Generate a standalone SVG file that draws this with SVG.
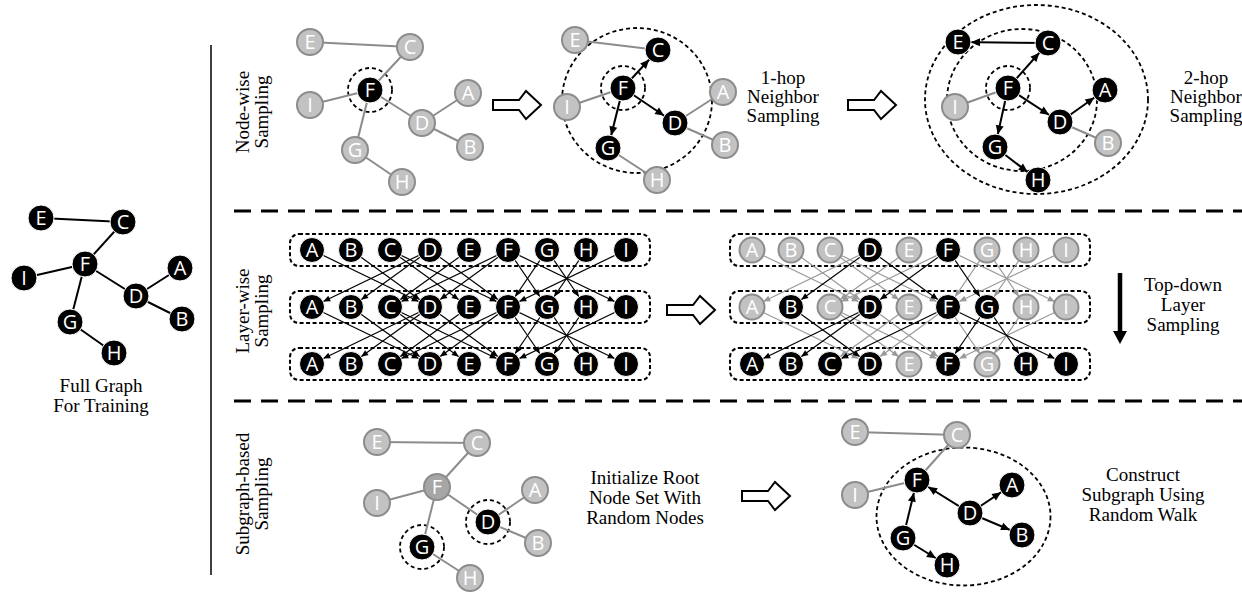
<svg xmlns="http://www.w3.org/2000/svg" width="1242" height="593" viewBox="0 0 1242 593">
<style>
.eg{stroke:#8c8c8c;stroke-width:2}
.eb{stroke:#000;stroke-width:2}
.ab{stroke:#000;stroke-width:2;marker-end:url(#ah13)}
.lb{stroke:#000;stroke-width:1.2;marker-end:url(#lh)}
.lg{stroke:#999;stroke-width:1.2;marker-end:url(#lhg)}
.nb circle{fill:#000;stroke:#fff;stroke-width:1}
.ng circle{fill:#c2c2c2;stroke:#8c8c8c;stroke-width:2}
.nd circle{fill:#a6a6a6;stroke:#8c8c8c;stroke-width:2}
.nb text,.ng text,.nd text{font-family:"Open Sans",sans-serif;font-size:20px;fill:#fff;text-anchor:middle}
.dc{fill:none;stroke:#000;stroke-width:1.8;stroke-dasharray:4 3}
.row{fill:none;stroke:#000;stroke-width:2;stroke-dasharray:4 2.5}
.lbl{font-family:"Liberation Serif",serif;font-size:19px;fill:#000;text-anchor:middle}
.arr{fill:#fff;stroke:#000;stroke-width:2}
.sep{stroke:#000;stroke-width:3;stroke-dasharray:17 10}
</style>
<defs>
<marker id="ah13" markerUnits="userSpaceOnUse" markerWidth="40" markerHeight="10" refX="22" refY="4" orient="auto" overflow="visible"><path d="M0,0 L9,4 L0,8 Z" fill="#000"/></marker>
<marker id="lh" markerUnits="userSpaceOnUse" markerWidth="40" markerHeight="10" refX="19.5" refY="3" orient="auto" overflow="visible"><path d="M0,0 L7,3 L0,6 Z" fill="#000"/></marker>
<marker id="lhg" markerUnits="userSpaceOnUse" markerWidth="40" markerHeight="10" refX="19.5" refY="3" orient="auto" overflow="visible"><path d="M0,0 L7,3 L0,6 Z" fill="#999"/></marker>
<path id="harrow" d="M0,-5 H26 L33,-14 L48,0 L33,14 L26,5 H0 Z"/>
</defs>
<rect width="1242" height="593" fill="#fff"/>

<g id="frame">
<line x1="211" y1="45" x2="211" y2="575" stroke="#000" stroke-width="1.5"/>
<line class="sep" x1="234" y1="211" x2="1242" y2="211"/>
<line class="sep" x1="234" y1="401" x2="1242" y2="401"/>
</g>

<g id="labels">
<text class="lbl" x="101" y="392">Full Graph</text>
<text class="lbl" x="101" y="412">For Training</text>
<text class="lbl" transform="translate(249,112) rotate(-90)">Node-wise</text>
<text class="lbl" transform="translate(268,112) rotate(-90)">Sampling</text>
<text class="lbl" transform="translate(249,311) rotate(-90)">Layer-wise</text>
<text class="lbl" transform="translate(268,311) rotate(-90)">Sampling</text>
<text class="lbl" transform="translate(249,494) rotate(-90)">Subgraph-based</text>
<text class="lbl" transform="translate(268,494) rotate(-90)">Sampling</text>
<text class="lbl" x="783" y="84">1-hop</text>
<text class="lbl" x="783" y="103">Neighbor</text>
<text class="lbl" x="783" y="122">Sampling</text>
<text class="lbl" x="1206" y="84">2-hop</text>
<text class="lbl" x="1206" y="103">Neighbor</text>
<text class="lbl" x="1206" y="122">Sampling</text>
<text class="lbl" x="1183" y="291">Top-down</text>
<text class="lbl" x="1183" y="311">Layer</text>
<text class="lbl" x="1183" y="331">Sampling</text>
<text class="lbl" x="645" y="484">Initialize Root</text>
<text class="lbl" x="645" y="504">Node Set With</text>
<text class="lbl" x="645" y="524">Random Nodes</text>
<text class="lbl" x="1143" y="481">Construct</text>
<text class="lbl" x="1143" y="501">Subgraph Using</text>
<text class="lbl" x="1143" y="521">Random Walk</text>
</g>

<g id="transitions">
<use href="#harrow" class="arr" x="493" y="105"/>
<use href="#harrow" class="arr" x="848" y="105"/>
<use href="#harrow" class="arr" x="667" y="310"/>
<use href="#harrow" class="arr" x="742" y="496"/>
<line x1="1120" y1="273" x2="1120" y2="333" stroke="#000" stroke-width="4.5"/>
<polygon points="1113,331 1127,331 1120,344" fill="#000"/>
</g>

<g id="regions">
<circle class="dc" cx="370" cy="90" r="22"/>
<circle class="dc" cx="623" cy="88" r="22"/>
<ellipse class="dc" cx="637" cy="100.5" rx="75" ry="72.5"/>
<circle class="dc" cx="1008" cy="88" r="22"/>
<ellipse class="dc" cx="1022" cy="100" rx="75" ry="71"/>
<ellipse class="dc" cx="1036.5" cy="99.5" rx="111.5" ry="94.5"/>
<rect class="row" x="290" y="234" width="360" height="32" rx="9"/>
<rect class="row" x="290" y="291" width="360" height="32" rx="9"/>
<rect class="row" x="290" y="348" width="360" height="32" rx="9"/>
<rect class="row" x="730" y="234" width="360" height="32" rx="9"/>
<rect class="row" x="730" y="291" width="360" height="32" rx="9"/>
<rect class="row" x="730" y="348" width="360" height="32" rx="9"/>
<circle class="dc" cx="488" cy="522" r="22"/>
<circle class="dc" cx="422" cy="547" r="22"/>
<ellipse class="dc" cx="963.5" cy="516.5" rx="87" ry="69"/>
</g>

<g id="connectors">
<!-- full graph -->
<line class="eb" x1="41" y1="218" x2="123" y2="222"/>
<line class="eb" x1="123" y1="222" x2="85" y2="264"/>
<line class="eb" x1="85" y1="264" x2="24" y2="278"/>
<line class="eb" x1="85" y1="264" x2="136" y2="296"/>
<line class="eb" x1="85" y1="264" x2="70" y2="322"/>
<line class="eb" x1="136" y1="296" x2="180" y2="268"/>
<line class="eb" x1="136" y1="296" x2="182" y2="319"/>
<line class="eb" x1="70" y1="322" x2="114" y2="353"/>
<!-- node-wise 1 -->
<line class="eg" x1="310" y1="42" x2="410" y2="47"/>
<line class="eg" x1="410" y1="47" x2="370" y2="90"/>
<line class="eg" x1="370" y1="90" x2="310" y2="105"/>
<line class="eg" x1="370" y1="90" x2="422" y2="123"/>
<line class="eg" x1="370" y1="90" x2="355" y2="150"/>
<line class="eg" x1="422" y1="123" x2="468" y2="93"/>
<line class="eg" x1="422" y1="123" x2="470" y2="147"/>
<line class="eg" x1="355" y1="150" x2="402" y2="182"/>
<!-- node-wise 2 -->
<line class="eg" x1="575" y1="40" x2="658" y2="50"/>
<line class="eg" x1="623" y1="88" x2="567" y2="107"/>
<line class="eg" x1="675" y1="123" x2="723" y2="92"/>
<line class="eg" x1="675" y1="123" x2="725" y2="145"/>
<line class="eg" x1="608" y1="148" x2="657" y2="180"/>
<line class="ab" x1="623" y1="88" x2="658" y2="50"/>
<line class="ab" x1="623" y1="88" x2="675" y2="123"/>
<line class="ab" x1="623" y1="88" x2="608" y2="148"/>
<!-- node-wise 3 -->
<line class="eg" x1="1008" y1="88" x2="955" y2="107"/>
<line class="eg" x1="1060" y1="122" x2="1108" y2="143"/>
<line class="ab" x1="1048" y1="43" x2="958" y2="42"/>
<line class="ab" x1="1008" y1="88" x2="1048" y2="43"/>
<line class="ab" x1="1008" y1="88" x2="1060" y2="122"/>
<line class="ab" x1="1008" y1="88" x2="995" y2="147"/>
<line class="ab" x1="1060" y1="122" x2="1105" y2="90"/>
<line class="ab" x1="995" y1="147" x2="1038" y2="180"/>
<!-- layer-wise left, rows 1 to 2 -->
<line class="lb" x1="312" y1="250" x2="430" y2="307"/>
<line class="lb" x1="351" y1="250" x2="430" y2="307"/>
<line class="lb" x1="390" y1="250" x2="469" y2="307"/>
<line class="lb" x1="390" y1="250" x2="508" y2="307"/>
<line class="lb" x1="430" y1="250" x2="312" y2="307"/>
<line class="lb" x1="430" y1="250" x2="351" y2="307"/>
<line class="lb" x1="430" y1="250" x2="508" y2="307"/>
<line class="lb" x1="469" y1="250" x2="390" y2="307"/>
<line class="lb" x1="508" y1="250" x2="390" y2="307"/>
<line class="lb" x1="508" y1="250" x2="430" y2="307"/>
<line class="lb" x1="508" y1="250" x2="547" y2="307"/>
<line class="lb" x1="508" y1="250" x2="626" y2="307"/>
<line class="lb" x1="547" y1="250" x2="508" y2="307"/>
<line class="lb" x1="547" y1="250" x2="586" y2="307"/>
<line class="lb" x1="586" y1="250" x2="547" y2="307"/>
<line class="lb" x1="626" y1="250" x2="508" y2="307"/>
<!-- layer-wise left, rows 2 to 3 -->
<line class="lb" x1="312" y1="307" x2="430" y2="364"/>
<line class="lb" x1="351" y1="307" x2="430" y2="364"/>
<line class="lb" x1="390" y1="307" x2="469" y2="364"/>
<line class="lb" x1="390" y1="307" x2="508" y2="364"/>
<line class="lb" x1="430" y1="307" x2="312" y2="364"/>
<line class="lb" x1="430" y1="307" x2="351" y2="364"/>
<line class="lb" x1="430" y1="307" x2="508" y2="364"/>
<line class="lb" x1="469" y1="307" x2="390" y2="364"/>
<line class="lb" x1="508" y1="307" x2="390" y2="364"/>
<line class="lb" x1="508" y1="307" x2="430" y2="364"/>
<line class="lb" x1="508" y1="307" x2="547" y2="364"/>
<line class="lb" x1="508" y1="307" x2="626" y2="364"/>
<line class="lb" x1="547" y1="307" x2="508" y2="364"/>
<line class="lb" x1="547" y1="307" x2="586" y2="364"/>
<line class="lb" x1="586" y1="307" x2="547" y2="364"/>
<line class="lb" x1="626" y1="307" x2="508" y2="364"/>
<!-- layer-wise right, rows 1 to 2 grey -->
<line class="lg" x1="752" y1="250" x2="870" y2="307"/>
<line class="lg" x1="791" y1="250" x2="870" y2="307"/>
<line class="lg" x1="830" y1="250" x2="909" y2="307"/>
<line class="lg" x1="830" y1="250" x2="948" y2="307"/>
<line class="lg" x1="870" y1="250" x2="752" y2="307"/>
<line class="lg" x1="909" y1="250" x2="830" y2="307"/>
<line class="lg" x1="948" y1="250" x2="830" y2="307"/>
<line class="lg" x1="948" y1="250" x2="1066" y2="307"/>
<line class="lg" x1="987" y1="250" x2="948" y2="307"/>
<line class="lg" x1="987" y1="250" x2="1026" y2="307"/>
<line class="lg" x1="1026" y1="250" x2="987" y2="307"/>
<line class="lg" x1="1066" y1="250" x2="948" y2="307"/>
<!-- layer-wise right, rows 2 to 3 grey -->
<line class="lg" x1="752" y1="307" x2="870" y2="364"/>
<line class="lg" x1="830" y1="307" x2="909" y2="364"/>
<line class="lg" x1="830" y1="307" x2="948" y2="364"/>
<line class="lg" x1="870" y1="307" x2="948" y2="364"/>
<line class="lg" x1="909" y1="307" x2="830" y2="364"/>
<line class="lg" x1="948" y1="307" x2="870" y2="364"/>
<line class="lg" x1="948" y1="307" x2="987" y2="364"/>
<line class="lg" x1="1026" y1="307" x2="987" y2="364"/>
<line class="lg" x1="1066" y1="307" x2="948" y2="364"/>
<!-- layer-wise right black -->
<line class="lb" x1="870" y1="250" x2="791" y2="307"/>
<line class="lb" x1="870" y1="250" x2="948" y2="307"/>
<line class="lb" x1="948" y1="250" x2="870" y2="307"/>
<line class="lb" x1="948" y1="250" x2="987" y2="307"/>
<line class="lb" x1="791" y1="307" x2="870" y2="364"/>
<line class="lb" x1="870" y1="307" x2="752" y2="364"/>
<line class="lb" x1="870" y1="307" x2="791" y2="364"/>
<line class="lb" x1="948" y1="307" x2="830" y2="364"/>
<line class="lb" x1="948" y1="307" x2="1066" y2="364"/>
<line class="lb" x1="987" y1="307" x2="948" y2="364"/>
<line class="lb" x1="987" y1="307" x2="1026" y2="364"/>
<!-- subgraph 1 -->
<line class="eg" x1="377" y1="442" x2="477" y2="443"/>
<line class="eg" x1="477" y1="443" x2="437" y2="487"/>
<line class="eg" x1="437" y1="487" x2="377" y2="503"/>
<line class="eg" x1="437" y1="487" x2="488" y2="522"/>
<line class="eg" x1="437" y1="487" x2="422" y2="547"/>
<line class="eg" x1="488" y1="522" x2="535" y2="490"/>
<line class="eg" x1="488" y1="522" x2="538" y2="543"/>
<line class="eg" x1="422" y1="547" x2="470" y2="578"/>
<!-- subgraph 2 -->
<line class="eg" x1="855" y1="432" x2="957" y2="435"/>
<line class="eg" x1="957" y1="435" x2="917" y2="480"/>
<line class="eg" x1="917" y1="480" x2="855" y2="495"/>
<line class="ab" x1="903" y1="538" x2="917" y2="480"/>
<line class="ab" x1="970" y1="513" x2="917" y2="480"/>
<line class="ab" x1="970" y1="513" x2="1012" y2="485"/>
<line class="ab" x1="970" y1="513" x2="1022" y2="535"/>
<line class="ab" x1="903" y1="538" x2="947" y2="565"/>
</g>

<g id="full-graph">
<g id="full-E" class="nb"><circle cx="41" cy="218" r="13"/><text x="41" y="225">E</text></g>
<g id="full-C" class="nb"><circle cx="123" cy="222" r="13"/><text x="123" y="229">C</text></g>
<g id="full-F" class="nb"><circle cx="85" cy="264" r="13"/><text x="85" y="271">F</text></g>
<g id="full-I" class="nb"><circle cx="24" cy="278" r="13"/><text x="24" y="285">I</text></g>
<g id="full-A" class="nb"><circle cx="180" cy="268" r="13"/><text x="180" y="275">A</text></g>
<g id="full-D" class="nb"><circle cx="136" cy="296" r="13"/><text x="136" y="303">D</text></g>
<g id="full-B" class="nb"><circle cx="182" cy="319" r="13"/><text x="182" y="326">B</text></g>
<g id="full-G" class="nb"><circle cx="70" cy="322" r="13"/><text x="70" y="329">G</text></g>
<g id="full-H" class="nb"><circle cx="114" cy="353" r="13"/><text x="114" y="360">H</text></g>
</g>

<g id="nodewise-1">
<g id="nw1-E" class="ng"><circle cx="310" cy="42" r="13"/><text x="310" y="49">E</text></g>
<g id="nw1-C" class="ng"><circle cx="410" cy="47" r="13"/><text x="410" y="54">C</text></g>
<g id="nw1-F" class="nb"><circle cx="370" cy="90" r="13"/><text x="370" y="97">F</text></g>
<g id="nw1-I" class="ng"><circle cx="310" cy="105" r="13"/><text x="310" y="112">I</text></g>
<g id="nw1-A" class="ng"><circle cx="468" cy="93" r="13"/><text x="468" y="100">A</text></g>
<g id="nw1-D" class="ng"><circle cx="422" cy="123" r="13"/><text x="422" y="130">D</text></g>
<g id="nw1-B" class="ng"><circle cx="470" cy="147" r="13"/><text x="470" y="154">B</text></g>
<g id="nw1-G" class="ng"><circle cx="355" cy="150" r="13"/><text x="355" y="157">G</text></g>
<g id="nw1-H" class="ng"><circle cx="402" cy="182" r="13"/><text x="402" y="189">H</text></g>
</g>

<g id="nodewise-2">
<g id="nw2-E" class="ng"><circle cx="575" cy="40" r="13"/><text x="575" y="47">E</text></g>
<g id="nw2-C" class="nb"><circle cx="658" cy="50" r="13"/><text x="658" y="57">C</text></g>
<g id="nw2-F" class="nb"><circle cx="623" cy="88" r="13"/><text x="623" y="95">F</text></g>
<g id="nw2-I" class="ng"><circle cx="567" cy="107" r="13"/><text x="567" y="114">I</text></g>
<g id="nw2-A" class="ng"><circle cx="723" cy="92" r="13"/><text x="723" y="99">A</text></g>
<g id="nw2-D" class="nb"><circle cx="675" cy="123" r="13"/><text x="675" y="130">D</text></g>
<g id="nw2-B" class="ng"><circle cx="725" cy="145" r="13"/><text x="725" y="152">B</text></g>
<g id="nw2-G" class="nb"><circle cx="608" cy="148" r="13"/><text x="608" y="155">G</text></g>
<g id="nw2-H" class="ng"><circle cx="657" cy="180" r="13"/><text x="657" y="187">H</text></g>
</g>

<g id="nodewise-3">
<g id="nw3-E" class="nb"><circle cx="958" cy="42" r="13"/><text x="958" y="49">E</text></g>
<g id="nw3-C" class="nb"><circle cx="1048" cy="43" r="13"/><text x="1048" y="50">C</text></g>
<g id="nw3-F" class="nb"><circle cx="1008" cy="88" r="13"/><text x="1008" y="95">F</text></g>
<g id="nw3-I" class="ng"><circle cx="955" cy="107" r="13"/><text x="955" y="114">I</text></g>
<g id="nw3-A" class="nb"><circle cx="1105" cy="90" r="13"/><text x="1105" y="97">A</text></g>
<g id="nw3-D" class="nb"><circle cx="1060" cy="122" r="13"/><text x="1060" y="129">D</text></g>
<g id="nw3-B" class="ng"><circle cx="1108" cy="143" r="13"/><text x="1108" y="150">B</text></g>
<g id="nw3-G" class="nb"><circle cx="995" cy="147" r="13"/><text x="995" y="154">G</text></g>
<g id="nw3-H" class="nb"><circle cx="1038" cy="180" r="13"/><text x="1038" y="187">H</text></g>
</g>

<g id="layer-left">
<g id="ll1-A" class="nb"><circle cx="312" cy="250" r="12.5"/><text x="312" y="257">A</text></g>
<g id="ll1-B" class="nb"><circle cx="351" cy="250" r="12.5"/><text x="351" y="257">B</text></g>
<g id="ll1-C" class="nb"><circle cx="390" cy="250" r="12.5"/><text x="390" y="257">C</text></g>
<g id="ll1-D" class="nb"><circle cx="430" cy="250" r="12.5"/><text x="430" y="257">D</text></g>
<g id="ll1-E" class="nb"><circle cx="469" cy="250" r="12.5"/><text x="469" y="257">E</text></g>
<g id="ll1-F" class="nb"><circle cx="508" cy="250" r="12.5"/><text x="508" y="257">F</text></g>
<g id="ll1-G" class="nb"><circle cx="547" cy="250" r="12.5"/><text x="547" y="257">G</text></g>
<g id="ll1-H" class="nb"><circle cx="586" cy="250" r="12.5"/><text x="586" y="257">H</text></g>
<g id="ll1-I" class="nb"><circle cx="626" cy="250" r="12.5"/><text x="626" y="257">I</text></g>
<g id="ll2-A" class="nb"><circle cx="312" cy="307" r="12.5"/><text x="312" y="314">A</text></g>
<g id="ll2-B" class="nb"><circle cx="351" cy="307" r="12.5"/><text x="351" y="314">B</text></g>
<g id="ll2-C" class="nb"><circle cx="390" cy="307" r="12.5"/><text x="390" y="314">C</text></g>
<g id="ll2-D" class="nb"><circle cx="430" cy="307" r="12.5"/><text x="430" y="314">D</text></g>
<g id="ll2-E" class="nb"><circle cx="469" cy="307" r="12.5"/><text x="469" y="314">E</text></g>
<g id="ll2-F" class="nb"><circle cx="508" cy="307" r="12.5"/><text x="508" y="314">F</text></g>
<g id="ll2-G" class="nb"><circle cx="547" cy="307" r="12.5"/><text x="547" y="314">G</text></g>
<g id="ll2-H" class="nb"><circle cx="586" cy="307" r="12.5"/><text x="586" y="314">H</text></g>
<g id="ll2-I" class="nb"><circle cx="626" cy="307" r="12.5"/><text x="626" y="314">I</text></g>
<g id="ll3-A" class="nb"><circle cx="312" cy="364" r="12.5"/><text x="312" y="371">A</text></g>
<g id="ll3-B" class="nb"><circle cx="351" cy="364" r="12.5"/><text x="351" y="371">B</text></g>
<g id="ll3-C" class="nb"><circle cx="390" cy="364" r="12.5"/><text x="390" y="371">C</text></g>
<g id="ll3-D" class="nb"><circle cx="430" cy="364" r="12.5"/><text x="430" y="371">D</text></g>
<g id="ll3-E" class="nb"><circle cx="469" cy="364" r="12.5"/><text x="469" y="371">E</text></g>
<g id="ll3-F" class="nb"><circle cx="508" cy="364" r="12.5"/><text x="508" y="371">F</text></g>
<g id="ll3-G" class="nb"><circle cx="547" cy="364" r="12.5"/><text x="547" y="371">G</text></g>
<g id="ll3-H" class="nb"><circle cx="586" cy="364" r="12.5"/><text x="586" y="371">H</text></g>
<g id="ll3-I" class="nb"><circle cx="626" cy="364" r="12.5"/><text x="626" y="371">I</text></g>
</g>

<g id="layer-right">
<g id="lr1-A" class="ng"><circle cx="752" cy="250" r="12.5"/><text x="752" y="257">A</text></g>
<g id="lr1-B" class="ng"><circle cx="791" cy="250" r="12.5"/><text x="791" y="257">B</text></g>
<g id="lr1-C" class="ng"><circle cx="830" cy="250" r="12.5"/><text x="830" y="257">C</text></g>
<g id="lr1-D" class="nb"><circle cx="870" cy="250" r="12.5"/><text x="870" y="257">D</text></g>
<g id="lr1-E" class="ng"><circle cx="909" cy="250" r="12.5"/><text x="909" y="257">E</text></g>
<g id="lr1-F" class="nb"><circle cx="948" cy="250" r="12.5"/><text x="948" y="257">F</text></g>
<g id="lr1-G" class="ng"><circle cx="987" cy="250" r="12.5"/><text x="987" y="257">G</text></g>
<g id="lr1-H" class="ng"><circle cx="1026" cy="250" r="12.5"/><text x="1026" y="257">H</text></g>
<g id="lr1-I" class="ng"><circle cx="1066" cy="250" r="12.5"/><text x="1066" y="257">I</text></g>
<g id="lr2-A" class="ng"><circle cx="752" cy="307" r="12.5"/><text x="752" y="314">A</text></g>
<g id="lr2-B" class="nb"><circle cx="791" cy="307" r="12.5"/><text x="791" y="314">B</text></g>
<g id="lr2-C" class="ng"><circle cx="830" cy="307" r="12.5"/><text x="830" y="314">C</text></g>
<g id="lr2-D" class="nb"><circle cx="870" cy="307" r="12.5"/><text x="870" y="314">D</text></g>
<g id="lr2-E" class="ng"><circle cx="909" cy="307" r="12.5"/><text x="909" y="314">E</text></g>
<g id="lr2-F" class="nb"><circle cx="948" cy="307" r="12.5"/><text x="948" y="314">F</text></g>
<g id="lr2-G" class="nb"><circle cx="987" cy="307" r="12.5"/><text x="987" y="314">G</text></g>
<g id="lr2-H" class="ng"><circle cx="1026" cy="307" r="12.5"/><text x="1026" y="314">H</text></g>
<g id="lr2-I" class="ng"><circle cx="1066" cy="307" r="12.5"/><text x="1066" y="314">I</text></g>
<g id="lr3-A" class="nb"><circle cx="752" cy="364" r="12.5"/><text x="752" y="371">A</text></g>
<g id="lr3-B" class="nb"><circle cx="791" cy="364" r="12.5"/><text x="791" y="371">B</text></g>
<g id="lr3-C" class="nb"><circle cx="830" cy="364" r="12.5"/><text x="830" y="371">C</text></g>
<g id="lr3-D" class="nb"><circle cx="870" cy="364" r="12.5"/><text x="870" y="371">D</text></g>
<g id="lr3-E" class="ng"><circle cx="909" cy="364" r="12.5"/><text x="909" y="371">E</text></g>
<g id="lr3-F" class="nb"><circle cx="948" cy="364" r="12.5"/><text x="948" y="371">F</text></g>
<g id="lr3-G" class="ng"><circle cx="987" cy="364" r="12.5"/><text x="987" y="371">G</text></g>
<g id="lr3-H" class="nb"><circle cx="1026" cy="364" r="12.5"/><text x="1026" y="371">H</text></g>
<g id="lr3-I" class="nb"><circle cx="1066" cy="364" r="12.5"/><text x="1066" y="371">I</text></g>
</g>

<g id="subgraph-1">
<g id="sg1-E" class="ng"><circle cx="377" cy="442" r="13"/><text x="377" y="449">E</text></g>
<g id="sg1-C" class="ng"><circle cx="477" cy="443" r="13"/><text x="477" y="450">C</text></g>
<g id="sg1-F" class="nd"><circle cx="437" cy="487" r="13"/><text x="437" y="494">F</text></g>
<g id="sg1-I" class="ng"><circle cx="377" cy="503" r="13"/><text x="377" y="510">I</text></g>
<g id="sg1-A" class="ng"><circle cx="535" cy="490" r="13"/><text x="535" y="497">A</text></g>
<g id="sg1-D" class="nb"><circle cx="488" cy="522" r="13"/><text x="488" y="529">D</text></g>
<g id="sg1-B" class="ng"><circle cx="538" cy="543" r="13"/><text x="538" y="550">B</text></g>
<g id="sg1-G" class="nb"><circle cx="422" cy="547" r="13"/><text x="422" y="554">G</text></g>
<g id="sg1-H" class="ng"><circle cx="470" cy="578" r="13"/><text x="470" y="585">H</text></g>
</g>

<g id="subgraph-2">
<g id="sg2-E" class="ng"><circle cx="855" cy="432" r="13"/><text x="855" y="439">E</text></g>
<g id="sg2-C" class="ng"><circle cx="957" cy="435" r="13"/><text x="957" y="442">C</text></g>
<g id="sg2-F" class="nb"><circle cx="917" cy="480" r="13"/><text x="917" y="487">F</text></g>
<g id="sg2-I" class="ng"><circle cx="855" cy="495" r="13"/><text x="855" y="502">I</text></g>
<g id="sg2-A" class="nb"><circle cx="1012" cy="485" r="13"/><text x="1012" y="492">A</text></g>
<g id="sg2-D" class="nb"><circle cx="970" cy="513" r="13"/><text x="970" y="520">D</text></g>
<g id="sg2-B" class="nb"><circle cx="1022" cy="535" r="13"/><text x="1022" y="542">B</text></g>
<g id="sg2-G" class="nb"><circle cx="903" cy="538" r="13"/><text x="903" y="545">G</text></g>
<g id="sg2-H" class="nb"><circle cx="947" cy="565" r="13"/><text x="947" y="572">H</text></g>
</g>
</svg>
